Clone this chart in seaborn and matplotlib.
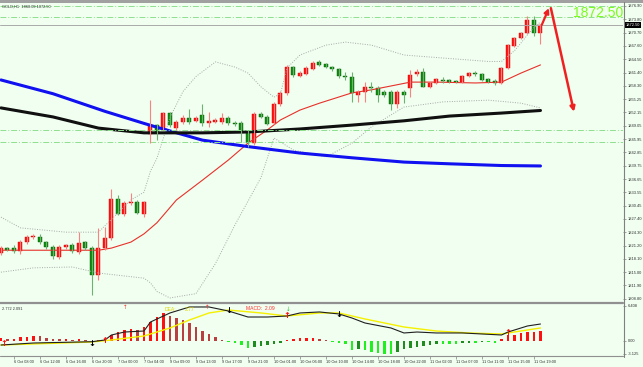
import numpy as np
import matplotlib
matplotlib.use("Agg")
import matplotlib.pyplot as plt
from matplotlib.patches import Rectangle
from matplotlib.lines import Line2D
import seaborn as sns

# ---------------- data ----------------
opens = [1819.5, 1820.6, 1820.6, 1819.9, 1822.0, 1823.2, 1823.2, 1822.0, 1820.9, 1818.5,
         1820.9, 1821.3, 1819.7, 1822.0, 1820.6, 1814.3, 1820.6, 1822.9, 1832.0, 1828.5,
         1831.1, 1831.3, 1828.5, 1847.1, 1849.2, 1848.5, 1852.0, 1848.5, 1849.9, 1850.9,
         1850.2, 1851.6, 1849.7, 1849.9, 1849.9, 1850.9, 1849.7, 1849.7, 1847.6, 1845.0,
         1851.8, 1851.1, 1849.7, 1854.1, 1856.7, 1862.7, 1860.6, 1861.1, 1862.3, 1863.9,
         1863.4, 1862.7, 1862.3, 1860.6, 1860.4, 1856.2, 1856.9, 1858.1, 1857.8, 1856.9,
         1856.9, 1854.1, 1856.9, 1857.8, 1861.1, 1861.6, 1858.1, 1859.0, 1859.7, 1859.7,
         1859.5, 1859.2, 1860.6, 1861.3, 1861.1, 1859.9, 1859.5, 1859.0, 1862.5, 1867.6,
         1869.5, 1870.6, 1873.6, 1870.6]
highs = [1821.1, 1820.9, 1821.3, 1822.5, 1823.6, 1823.9, 1823.9, 1822.3, 1821.3, 1821.3,
         1821.6, 1821.8, 1824.3, 1822.3, 1821.1, 1825.3, 1825.5, 1834.3, 1832.9, 1831.6,
         1833.4, 1831.8, 1831.6, 1855.0, 1849.5, 1852.2, 1852.2, 1850.4, 1851.6, 1853.0,
         1851.3, 1854.1, 1852.2, 1850.9, 1852.0, 1851.3, 1850.2, 1850.2, 1848.1, 1852.2,
         1852.2, 1851.6, 1854.6, 1857.1, 1863.2, 1863.0, 1861.8, 1863.0, 1864.1, 1864.3,
         1863.6, 1863.0, 1862.5, 1861.6, 1861.6, 1857.4, 1859.2, 1859.2, 1858.3, 1857.4,
         1857.4, 1857.4, 1857.4, 1862.0, 1862.3, 1862.5, 1859.2, 1860.2, 1860.4, 1859.9,
         1859.7, 1860.9, 1861.6, 1861.8, 1861.3, 1860.2, 1859.9, 1862.7, 1868.1, 1869.7,
         1870.9, 1874.6, 1874.6, 1872.7]
lows = [1819.0, 1819.9, 1819.5, 1819.2, 1821.6, 1822.7, 1821.6, 1820.4, 1818.1, 1818.1,
        1820.4, 1819.5, 1819.2, 1820.2, 1809.7, 1813.2, 1820.2, 1822.5, 1828.3, 1828.1,
        1830.6, 1828.5, 1827.8, 1845.0, 1845.7, 1848.1, 1848.8, 1848.1, 1849.5, 1849.5,
        1849.9, 1849.0, 1848.8, 1849.7, 1849.5, 1849.2, 1849.0, 1845.3, 1844.1, 1844.6,
        1850.9, 1849.2, 1849.5, 1853.6, 1856.2, 1860.4, 1860.4, 1860.9, 1862.0, 1862.9,
        1862.5, 1861.8, 1860.2, 1859.7, 1854.6, 1854.6, 1854.6, 1856.9, 1854.6, 1855.7,
        1852.7, 1853.2, 1854.3, 1855.7, 1860.6, 1858.0, 1857.8, 1858.8, 1859.0, 1859.0,
        1859.0, 1859.0, 1860.4, 1860.6, 1859.5, 1859.0, 1858.5, 1858.8, 1862.3, 1867.4,
        1869.2, 1870.4, 1869.9, 1868.09]
closes = [1820.6, 1820.2, 1819.9, 1822.0, 1823.2, 1823.4, 1822.0, 1820.9, 1818.8, 1820.9,
          1821.3, 1819.9, 1821.8, 1820.6, 1814.3, 1820.6, 1822.9, 1832.0, 1828.5, 1831.1,
          1831.3, 1828.8, 1831.3, 1849.2, 1847.6, 1852.0, 1849.2, 1849.9, 1850.9, 1849.9,
          1850.9, 1849.7, 1850.2, 1850.4, 1850.9, 1849.7, 1849.5, 1847.6, 1845.0, 1851.8,
          1851.1, 1849.5, 1854.1, 1856.7, 1862.7, 1860.9, 1861.3, 1862.5, 1863.6, 1863.2,
          1862.7, 1862.3, 1860.6, 1860.4, 1856.7, 1856.9, 1858.1, 1857.8, 1856.2, 1856.2,
          1854.1, 1856.9, 1856.2, 1860.9, 1861.6, 1858.1, 1859.0, 1859.9, 1859.5, 1859.2,
          1859.2, 1860.6, 1861.3, 1861.1, 1859.7, 1859.2, 1859.0, 1862.5, 1867.8, 1869.5,
          1870.6, 1873.6, 1870.6, 1872.5]

# long moving averages (read at sample bars)
blue_idx = [0, 8, 16, 22, 24, 31, 38, 46, 54, 62, 69, 77, 83]
blue_ma = [1859.7, 1856.5, 1852.4, 1849.6, 1848.7, 1845.7, 1844.2, 1842.7, 1841.6, 1840.6,
           1840.2, 1839.8, 1839.7]
black_idx = [0, 8, 15, 22, 31, 38, 46, 54, 62, 69, 77, 83]
black_ma = [1853.2, 1851.1, 1848.5, 1847.4, 1847.4, 1847.6, 1848.3, 1849.2, 1850.2, 1851.3,
            1852.0, 1852.6]
mid_idx = [0, 15, 17, 20, 22, 24, 27, 31, 35, 38, 41, 43, 46, 49, 54, 57, 63, 67, 73, 77, 80, 83]
mid_band = [1820.1, 1820.1, 1820.6, 1822.0, 1823.9, 1826.5, 1831.8, 1836.4, 1841.1, 1845.0,
            1848.1, 1850.4, 1852.7, 1854.3, 1856.7, 1857.4, 1859.2, 1859.2, 1859.0, 1859.2,
            1861.3, 1863.2]
upper_idx = [0, 3, 10, 15, 20, 22, 23, 24, 26, 28, 30, 33, 36, 38, 40, 42, 43, 44, 46, 50,
             53, 57, 62, 68, 75, 77, 79, 80, 81, 82, 83]
upper_band = [1827.8, 1825.3, 1824.3, 1824.3, 1831.8, 1833.6, 1838.5, 1841.5, 1851.0, 1857.0,
              1860.5, 1863.9, 1862.7, 1861.3, 1858.1, 1855.7, 1856.5, 1862.5, 1865.5, 1867.8,
              1868.5, 1867.8, 1865.5, 1864.8, 1864.0, 1864.0, 1866.5, 1868.3, 1870.2, 1871.9,
              1873.2]
lower_idx = [0, 5, 11, 15, 22, 23, 24, 26, 30, 33, 36, 38, 40, 42, 45, 50, 54, 57, 62, 68,
             75, 80, 83]
lower_band = [1815.0, 1816.0, 1816.2, 1814.8, 1813.6, 1812.5, 1810.5, 1809.0, 1810.0, 1817.0,
              1826.0, 1831.5, 1837.0, 1846.2, 1843.4, 1841.8, 1845.0, 1848.8, 1853.4, 1854.6,
              1855.0, 1854.3, 1853.2]

level_lines = [1876.97, 1874.27, 1848.0, 1845.2]
last_price = 1872.50
signal_arrow_idx = [83.2, 84.3, 84.6, 88.15]
signal_arrow_px = [1872.5, 1876.4, 1876.4, 1852.3]

# MACD panel
hist = [0.43, 0.30, 0.30, 0.61, 0.71, 0.89, 0.84, 0.43, 0.30, 0.25, 0.25, 0.13, 0.25, 0.13,
        0.02, 0.13, 0.25, 1.02, 1.61, 1.91, 2.09, 1.91, 2.50, 3.39, 4.29, 4.89, 4.41, 4.00,
        3.70, 3.11, 2.50, 1.79, 1.20, 0.61, 0.13, -0.18, -0.36, -0.77, -1.36, -1.18, -0.95,
        -0.77, -0.59, -0.36, 0.13, 0.30, 0.43, 0.54, 0.54, 0.36, 0.18, -0.15, -0.41, -0.59,
        -1.66, -1.54, -1.66, -1.96, -2.14, -2.38, -2.38, -1.96, -1.54, -1.30, -1.07, -0.95,
        -0.77, -0.59, -0.59, -0.59, -0.59, -0.46, -0.36, -0.36, -0.23, -0.23, -0.36, 0.36,
        1.02, 1.02, 1.32, 1.61, 1.61, 1.79]
macd_idx = [0, 5, 14, 16, 17, 19, 22, 23, 26, 29, 32, 35, 38, 41, 44, 46, 49, 52, 54, 56,
            60, 62, 64, 67, 71, 77, 78, 81, 83]
macd_line = [-0.77, -0.41, -0.18, 0.13, 1.02, 1.55, 1.73, 3.34, 4.95, 6.02, 6.02, 5.30, 4.23,
             4.23, 4.41, 4.95, 5.13, 4.77, 4.05, 3.16, 2.27, 1.38, 1.55, 1.38, 1.38, 1.02,
             1.55, 2.63, 2.98]
sig_idx = [0, 14, 17, 22, 26, 29, 32, 35, 40, 44, 49, 52, 56, 62, 67, 72, 77, 83]
sig_line = [-0.77, -0.23, 0.13, 0.84, 2.27, 3.70, 4.95, 5.48, 4.95, 4.41, 4.95, 4.95, 3.88,
            2.45, 1.73, 1.38, 1.20, 2.27]
down_idx = [14, 35, 52]
down_val = [-0.41, 5.48, 4.59]
up_idx = [0.4, 16, 44, 78]
up_val = [-0.41, -0.05, 4.41, 1.38]

price_ticks = [1876.90, 1873.80, 1870.70, 1867.60, 1864.50, 1861.40, 1858.30, 1855.25,
               1852.15, 1849.05, 1845.95, 1842.85, 1839.75, 1836.65, 1833.55, 1830.45,
               1827.40, 1824.30, 1821.20, 1818.10, 1815.00, 1811.90, 1808.80]
time_idx = [-2, 2, 6, 10, 14, 18, 22, 26, 30, 34, 38, 42, 46, 50, 54, 58, 62, 66, 70, 74, 78, 82]
time_labels = ["6 Oct 04:00", "6 Oct 08:00", "6 Oct 12:00", "6 Oct 16:00", "6 Oct 20:00",
               "7 Oct 00:00", "7 Oct 04:00", "9 Oct 09:00", "9 Oct 13:00", "9 Oct 17:00",
               "9 Oct 21:00", "10 Oct 01:00", "10 Oct 06:00", "10 Oct 10:00", "10 Oct 14:00",
               "10 Oct 18:00", "10 Oct 22:00", "11 Oct 02:00", "11 Oct 07:00", "11 Oct 11:00",
               "11 Oct 15:00", "11 Oct 19:00"]

# ---------------- style ----------------
BG = "#F0FFF0"
sns.set_theme(style="white")
plt.rcParams["font.family"] = ["Liberation Sans", "DejaVu Sans"]
plt.rcParams["axes.facecolor"] = BG

W, H = 643, 367
PX_PER_BAR = 6.5
fig = plt.figure(figsize=(W / 100, H / 100), dpi=100)
fig.patch.set_facecolor(BG)
right_px = 623
ax = fig.add_axes([0, 1 - 302 / H, right_px / W, 300 / H])
axm = fig.add_axes([0, 1 - 356 / H, right_px / W, 53 / H], sharex=ax)
for a in (ax, axm):
    a.set_facecolor(BG)
    for s in a.spines.values():
        s.set_visible(False)

o = np.array(opens); h = np.array(highs); l = np.array(lows); c = np.array(closes)
x = np.arange(len(o))
up = c >= o

# bands and moving averages
sns.lineplot(x=upper_idx, y=upper_band, ax=ax, color="#A8A8A8", lw=0.7, linestyle=(0, (1, 1.5)))
sns.lineplot(x=lower_idx, y=lower_band, ax=ax, color="#A8A8A8", lw=0.7, linestyle=(0, (1, 1.5)))
sns.lineplot(x=mid_idx, y=mid_band, ax=ax, color="#E8302A", lw=0.8)
sns.lineplot(x=blue_idx, y=blue_ma, ax=ax, color="#1010F0", lw=2.2)
sns.lineplot(x=black_idx, y=black_ma, ax=ax, color="#101010", lw=2.2)

for lv in level_lines:
    ax.axhline(lv, color="#8EE08E", lw=0.7, ls=(0, (6, 2, 1, 2)))
ax.axhline(last_price, color="#A9A9A9", lw=0.7)

# candles
ax.vlines(x[up], l[up], h[up], color="#FF8080", lw=0.8)
ax.vlines(x[~up], l[~up], h[~up], color="#70B070", lw=0.8)
bot = np.minimum(o, c)
hgt = np.maximum(np.abs(c - o), 0.3)
ax.bar(x[up], hgt[up], bottom=bot[up], width=0.62, color="#FF1515", edgecolor="#D00000", lw=0.3)
ax.bar(x[~up], hgt[~up], bottom=bot[~up], width=0.62, color="#108A10", edgecolor="#006000", lw=0.3)

# signal arrows
ax.annotate("", xy=(signal_arrow_idx[1], signal_arrow_px[1]),
            xytext=(signal_arrow_idx[0], signal_arrow_px[0]),
            arrowprops=dict(arrowstyle="-|>", color="#F02020", lw=1.6, mutation_scale=7,
                            shrinkA=0, shrinkB=0))
ax.annotate("", xy=(signal_arrow_idx[3], signal_arrow_px[3]),
            xytext=(signal_arrow_idx[2], signal_arrow_px[2]),
            arrowprops=dict(arrowstyle="-|>", color="#F02020", lw=1.8, mutation_scale=7,
                            shrinkA=0, shrinkB=0))

ax.set_ylim(1808.06, 1877.83)
ax.yaxis.tick_right()
ax.set_yticks(price_ticks)
ax.set_yticklabels([f"{v:.2f}" for v in price_ticks], fontsize=2.9, color="#303030")
ax.tick_params(axis="y", which="both", length=2, width=0.5, color="#808080", pad=1.5,
               right=True, left=False)
ax.tick_params(axis="x", bottom=False, labelbottom=False)
ax.set_xlabel(""); ax.set_ylabel("")

# last price tag
ax.text(1.004, last_price, f"{last_price:.2f}", transform=ax.get_yaxis_transform(),
        fontsize=2.9, color="white", va="center", ha="left",
        bbox=dict(boxstyle="square,pad=0.25", fc="#000000", ec="none"))
# big price text
ax.text(573 / right_px, 1875.2, f"{last_price:.2f}", transform=ax.get_yaxis_transform(),
        fontsize=10, color="#7CFC1C", va="center", ha="left", clip_on=False)
# header
ax.text(0.003, 0.992, "GOLD,H1  1868.09 1872.50", transform=ax.transAxes, fontsize=2.8,
        color="#303030", va="top", ha="left")

# ---------------- MACD panel ----------------
hv = np.array(hist)
prev = np.concatenate([[hv[0]], hv[:-1]])
cols = []
for v, p in zip(hv, prev):
    if v >= 0:
        cols.append("#FF1010" if v >= p else "#B84040")
    else:
        cols.append("#20F020" if v <= p else "#1E8C1E")
axm.bar(x, hv, width=0.32, color=cols, lw=0)
sns.lineplot(x=sig_idx, y=sig_line, ax=axm, color="#F5F000", lw=1.0)
sns.lineplot(x=macd_idx, y=macd_line, ax=axm, color="#202020", lw=0.8)
for xi, yi in zip(down_idx, down_val):
    axm.text(xi, yi, "↓", color="black", fontsize=6, fontweight="bold", ha="center",
             va="center", family="DejaVu Sans")
for xi, yi in zip(up_idx, up_val):
    axm.text(xi, yi, "↑", color="#FF1010", fontsize=6, fontweight="bold", ha="center",
             va="center", family="DejaVu Sans")
axm.set_ylim(-2.73, 6.73)
axm.yaxis.tick_right()
axm.set_yticks([6.2, 0.0, -2.37])
axm.set_yticklabels(["6.408", "0.00", "-3.125"], fontsize=2.9, color="#303030")
axm.tick_params(axis="y", length=2, width=0.5, color="#808080", pad=1.5, right=True, left=False)
axm.set_xticks(time_idx)
axm.set_xticklabels(time_labels, fontsize=2.8, color="#303030", ha="left")
axm.tick_params(axis="x", length=2, width=0.5, color="#808080", pad=1.2, bottom=True)
axm.set_xlabel(""); axm.set_ylabel("")
axm.text(0.003, 0.93, "2.772 2.091", transform=axm.transAxes, fontsize=2.8, color="#303030",
         va="top", ha="left")
axm.text(165 / right_px, 0.93, "DEA:", transform=axm.transAxes, fontsize=3.6, color="#E0D800",
         va="top", ha="left", zorder=5)
axm.text(185 / right_px, 0.93, "2.77", transform=axm.transAxes, fontsize=3.6, color="#E0D800",
         va="top", ha="left", zorder=5)
axm.text(246 / right_px, 0.95, "MACD:  2.09", transform=axm.transAxes, fontsize=3.6,
         color="#FF3030", va="top", ha="left")
axm.text(125 / right_px, 0.97, "↑", transform=axm.transAxes, fontsize=4, color="#FF3030",
         va="top", ha="center", family="DejaVu Sans")
axm.text(207 / right_px, 0.97, "↑", transform=axm.transAxes, fontsize=4, color="#FF3030",
         va="top", ha="center", family="DejaVu Sans")
axm.text(288 / right_px, 0.93, "↓", transform=axm.transAxes, fontsize=4, color="#30C030",
         va="top", ha="center", family="DejaVu Sans")

# x range: 6.5 px per hourly bar
ax.set_xlim(-0.15, right_px / PX_PER_BAR - 0.15)

# frame lines (figure coords)
def hline(ypx, x0px, x1px, lw, col):
    fig.add_artist(Line2D([x0px / W, x1px / W], [1 - ypx / H, 1 - ypx / H], lw=lw, color=col))

fig.add_artist(Rectangle((0, 1 - 2.5 / H), 1, 2.5 / H, transform=fig.transFigure,
                         color="#A0A0A0", lw=0))
hline(302.6, 0, right_px, 1.6, "#909090")
hline(356.3, 0, right_px, 0.8, "#909090")
fig.add_artist(Line2D([(right_px + 0.5) / W] * 2, [1 - 357 / H, 1 - 2 / H], lw=0.8,
                      color="#808080"))

fig.savefig("out.png", dpi=100, facecolor=BG)
